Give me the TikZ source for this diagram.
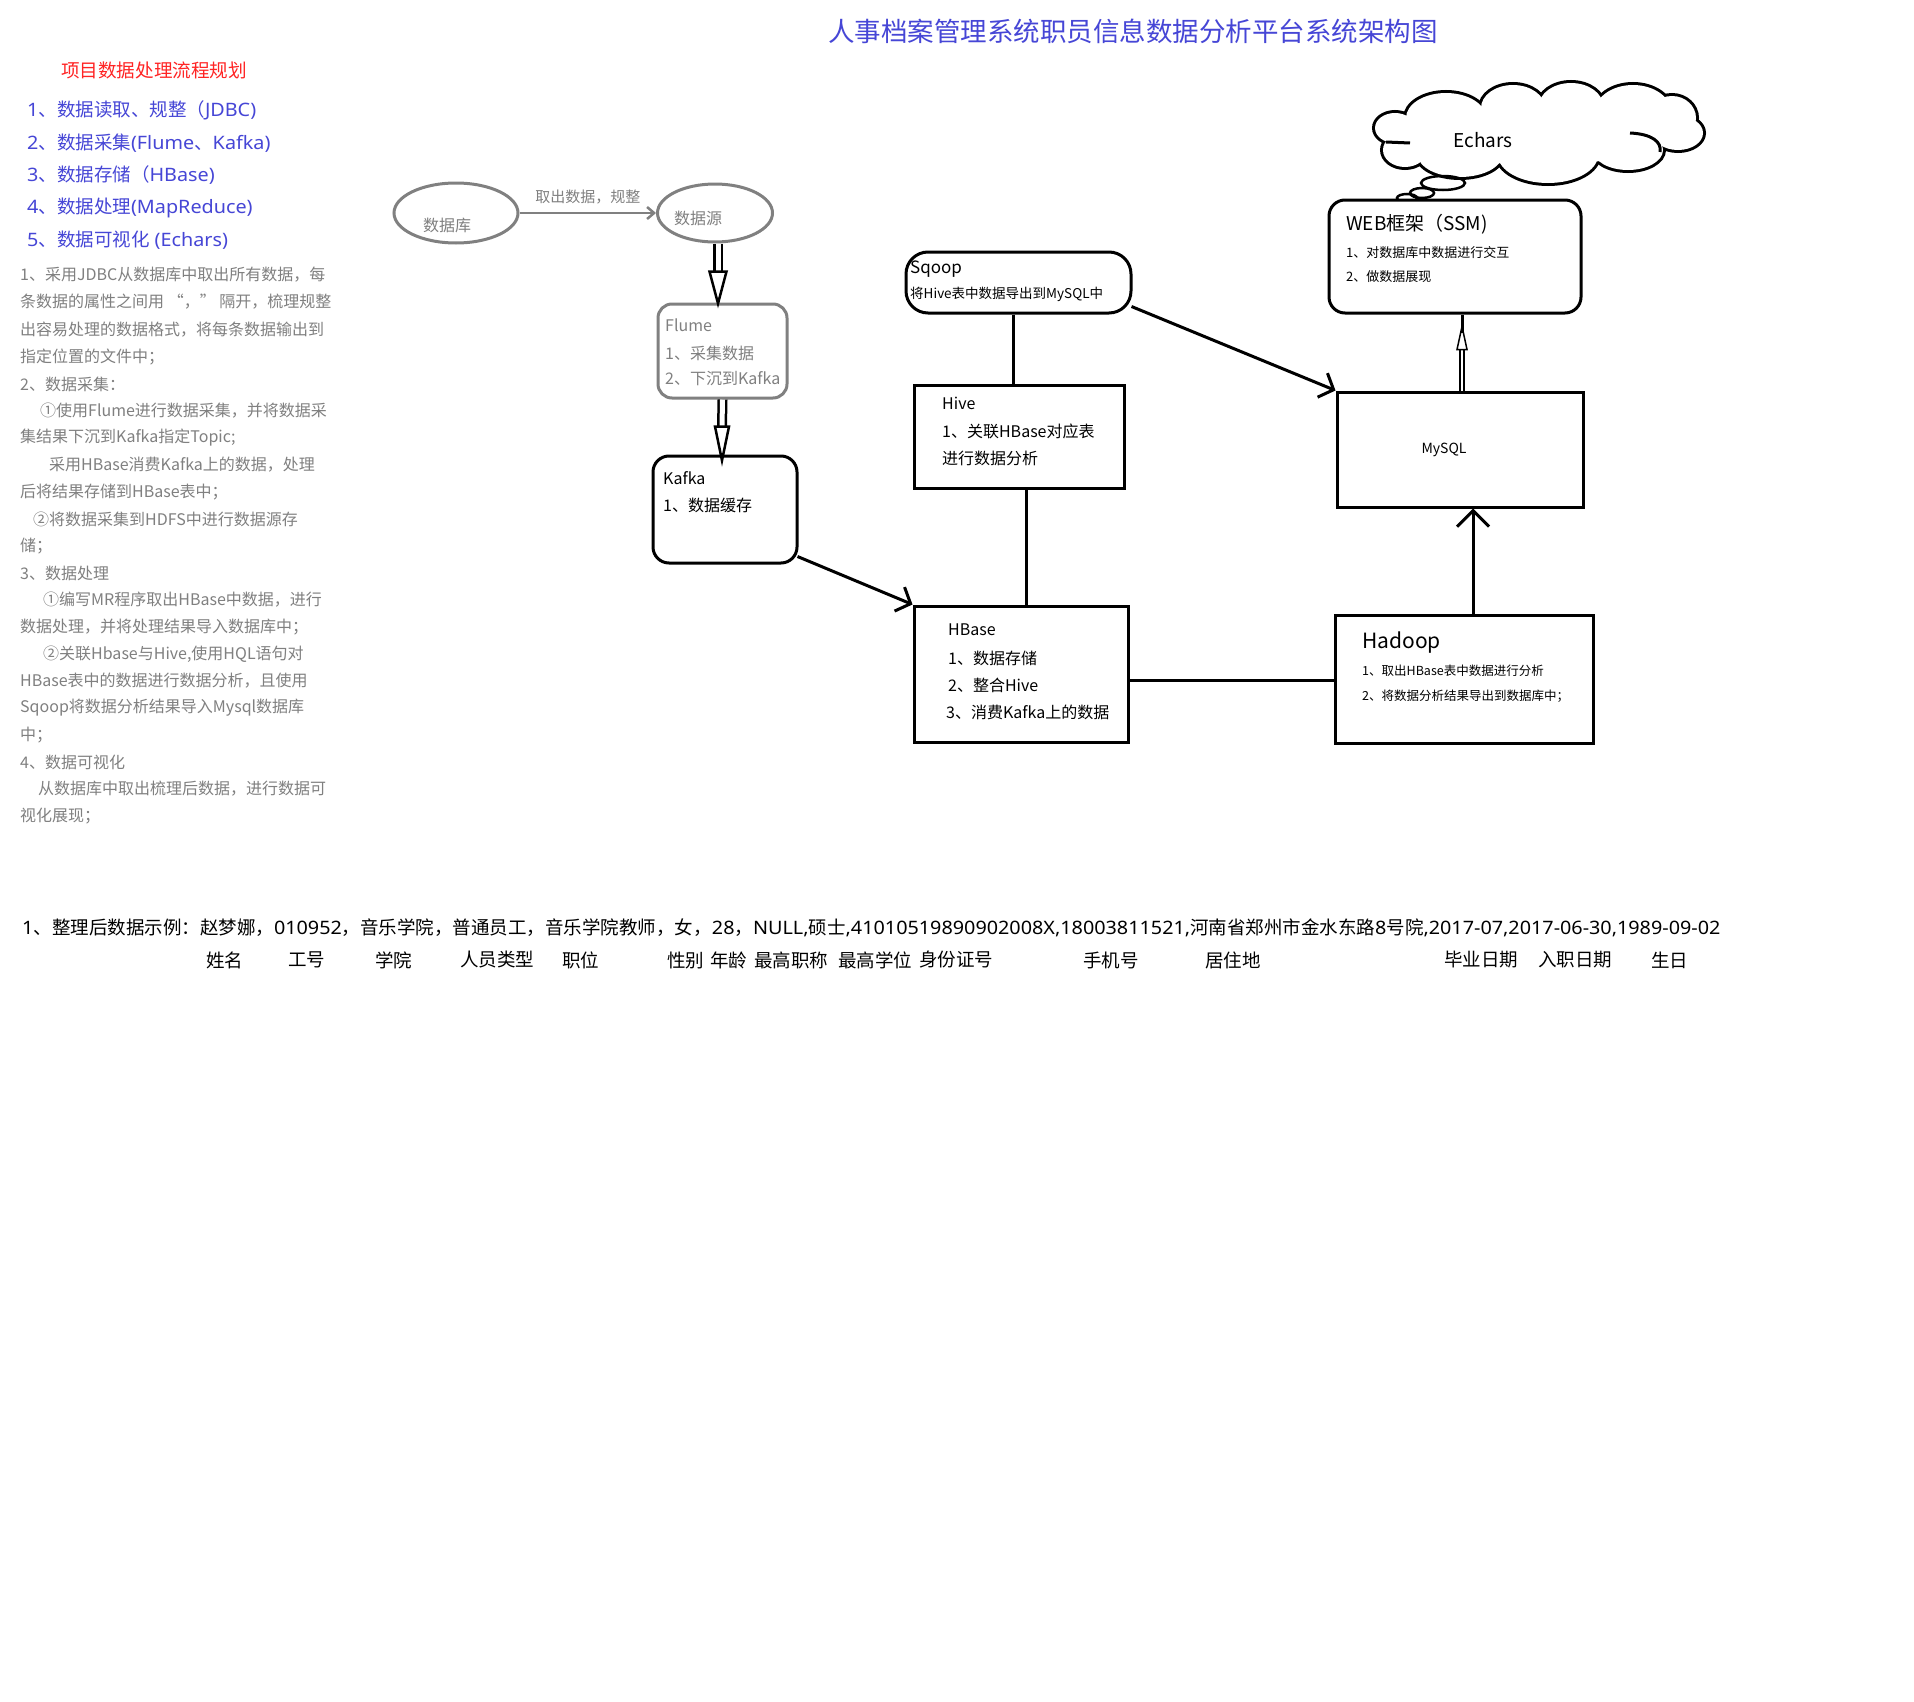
\documentclass[tikz,border=0pt]{standalone}
\usepackage{fontspec}
\setmainfont{Noto Sans CJK SC}
\newfontfamily\lat[FakeStretch=1.07]{Noto Sans}
\usetikzlibrary{shapes.geometric,arrows.meta,calc}
\definecolor{gry}{HTML}{808080}
\definecolor{blu}{HTML}{4646D6}
\definecolor{rd}{HTML}{FF2424}
\newcommand\fsz[1]{\fontsize{#1}{#1}\selectfont}
\tikzset{
  txt/.style={inner sep=0pt, anchor=west},
  ctxt/.style={inner sep=0pt},
  gtxt/.style={txt, text=gry, font=\fsz{16}},
  ltxt/.style={txt, text=blu, font=\fsz{18.5}},
  btxt/.style={txt, text=black, font=\fsz{16}},
  btxts/.style={txt, text=black, font=\fsz{12.5}},
  grayell/.style={ellipse, draw=gry, line width=3pt, inner sep=0pt},
  graybox/.style={rectangle, draw=gry, line width=3pt, rounded corners=14pt, inner sep=0pt},
  blkbox/.style={rectangle, draw=black, line width=3pt, inner sep=0pt, fill=white},
  conn/.style={draw=black, line width=3pt},
  openarr/.style={-{Straight Barb[length=12pt,width=26pt]}},
  shaft/.style={draw=black, line width=2.5pt, double=white, double distance=5pt},
  head/.style={draw=black, line width=2.5pt, fill=white, line join=miter},
  lobe/.style={draw=black, line width=6pt},
  lobefill/.style={fill=white},
}
\begin{document}
\begin{tikzpicture}[x=1pt,y=-1pt]
\useasboundingbox[fill=white] (0,0) rectangle (1914,1702);

% title
\node[ctxt, text=blu, font=\fsz{26.5}] (title) at (1133,31) {人事档案管理系统职员信息数据分析平台系统架构图};

% left column
\node[ctxt, text=rd, font=\fsz{18.6}] (rtitle) at (154,70) {项目数据处理流程规划};
\node[ltxt] (l1) at (27,110) {{\lat 1}、数据读取、规整（{\lat JDBC)}};
\node[ltxt] (l2) at (27,143) {{\lat 2}、数据采集{\lat (Flume}、{\lat Kafka)}};
\node[ltxt] (l3) at (27,175) {{\lat 3}、数据存储（{\lat HBase)}};
\node[ltxt] (l4) at (27,208) {{\lat 4}、数据处理{\lat (MapReduce)}};
\node[ltxt] (l5) at (27,240) {{\lat 5}、数据可视化{\lat\ (Echars)}};

\node[gtxt] (p1) at (20,275) {1、采用JDBC从数据库中取出所有数据，每};
\node[gtxt] (p2) at (20,302) {条数据的属性之间用 “，” 隔开，梳理规整};
\node[gtxt] (p3) at (20,330) {出容易处理的数据格式，将每条数据输出到};
\node[gtxt] (p4) at (20,357) {指定位置的文件中；};
\node[gtxt] (p5) at (20,384) {2、数据采集：};
\node[gtxt] (p6) at (40,411) {①使用Flume进行数据采集，并将数据采};
\node[gtxt] (p7) at (20,438) {集结果下沉到Kafka指定Topic;};
\node[gtxt] (p8) at (49,465) {采用HBase消费Kafka上的数据，处理};
\node[gtxt] (p9) at (20,492) {后将结果存储到HBase表中；};
\node[gtxt] (p10) at (33,519) {②将数据采集到HDFS中进行数据源存};
\node[gtxt] (p11) at (20,546) {储；};
\node[gtxt] (p12) at (20,573) {3、数据处理};
\node[gtxt] (p13) at (43,600) {①编写MR程序取出HBase中数据，进行};
\node[gtxt] (p14) at (20,627) {数据处理，并将处理结果导入数据库中；};
\node[gtxt] (p15) at (43,654) {②关联Hbase与Hive,使用HQL语句对};
\node[gtxt] (p16) at (20,681) {HBase表中的数据进行数据分析，且使用};
\node[gtxt] (p17) at (20,708) {Sqoop将数据分析结果导入Mysql数据库};
\node[gtxt] (p18) at (20,735) {中；};
\node[gtxt] (p19) at (20,762) {4、数据可视化};
\node[gtxt] (p20) at (38,789) {从数据库中取出梳理后数据，进行数据可};
\node[gtxt] (p21) at (20,816) {视化展现；};

% ellipses
\node[grayell, minimum width=124pt, minimum height=60pt] (db) at (456,213) {};
\node[ctxt, text=gry, font=\fsz{16}] (dbt) at (447,225) {数据库};
\node[grayell, minimum width=115pt, minimum height=58pt] (src) at (715,213) {};
\node[ctxt, text=gry, font=\fsz{16}] (srct) at (698,218) {数据源};
\draw[draw=gry, line width=2.5pt, -{Straight Barb[length=7pt,width=12pt]}] (db.east) -- (src.west)
  node[midway, above=8pt, inner sep=0pt, text=gry, font=\fsz{15}] {取出数据，规整};

% Flume
\node[graybox, minimum width=129pt, minimum height=94pt] (flume) at (722.5,351) {};
\node[gtxt] (fl1) at (665,325) {Flume};
\node[gtxt] (fl2) at (665,353) {1、采集数据};
\node[gtxt] (fl3) at (665,379) {2、下沉到Kafka};

% Kafka
\node[blkbox, rounded corners=16pt, minimum width=144pt, minimum height=107pt] (kafka) at (725,509.5) {};
\node[btxt] (ka1) at (663,478) {Kafka};
\node[btxt] (ka2) at (663,505) {1、数据缓存};

% hollow arrows
\draw[shaft] ($(src.south)+(3,0)$) -- ($(flume.north)+(-4.5,-31)$);
\draw[head] ($(flume.north)+(-13,-31)$) -- ($(flume.north)+(4,-31)$) -- ($(flume.north)+(-4.5,1)$) -- cycle;
\draw[shaft] ($(flume.south)+(0,0)$) -- ($(kafka.north)+(-3,-28)$);
\draw[head] ($(kafka.north)+(-10,-28)$) -- ($(kafka.north)+(4,-28)$) -- ($(kafka.north)+(-3,6)$) -- cycle;

% Sqoop, Hive, HBase
\node[blkbox, rounded corners=22pt, minimum width=225pt, minimum height=61pt] (sqoop) at (1018.5,282.5) {};
\node[txt, font=\fsz{17}] (sq1) at (910,269) {Sqoop};
\node[txt, font=\fsz{13.5}] (sq2) at (910,294) {将Hive表中数据导出到MySQL中};
\node[blkbox, minimum width=210pt, minimum height=103pt] (hive) at (1019,436.5) {};
\node[btxt] (hv1) at (942,403) {Hive};
\node[btxt] (hv2) at (942,431) {1、关联HBase对应表};
\node[btxt] (hv3) at (942,458) {进行数据分析};
\node[blkbox, minimum width=214pt, minimum height=136pt] (hbase) at (1021,674) {};
\node[btxt] (hb1) at (948,630) {HBase};
\node[btxt] (hb2) at (948,658) {1、数据存储};
\node[btxt] (hb3) at (948,685) {2、整合Hive};
\node[btxt] (hb4) at (946,712) {3、消费Kafka上的数据};

% cloud (union of lobes)
\foreach \cx/\cy/\rx/\ry in {1446/118/40/25, 1513/108/32/23, 1571/106/32/23, 1633/112/38/27,
  1672/118/24/22, 1678/133/25/17, 1628/150/35/20, 1548/155/50/28, 1460/155/42/22,
  1405/150/22/17, 1395/128/20/15}
  \draw[lobe] (\cx,\cy) ellipse [x radius=\rx, y radius=\ry];
\foreach \cx/\cy/\rx/\ry in {1446/118/40/25, 1513/108/32/23, 1571/106/32/23, 1633/112/38/27,
  1672/118/24/22, 1678/133/25/17, 1628/150/35/20, 1548/155/50/28, 1460/155/42/22,
  1405/150/22/17, 1395/128/20/15, 1540/135/120/30, 1425/140/20/12}
  \fill[lobefill] (\cx,\cy) ellipse [x radius=\rx, y radius=\ry];
\draw[line width=3pt] (1386,142) -- (1410,143);
\draw[line width=3pt] (1630,133) .. controls (1652,134) and (1662,142) .. (1660,152);
\node[ctxt, font=\fsz{19}] (ech) at (1483,140) {Echars};
\node[ellipse, draw=black, line width=2.5pt, minimum width=44pt, minimum height=14pt, inner sep=0pt] (b1) at (1443,183) {};
\node[ellipse, draw=black, line width=2.5pt, minimum width=24pt, minimum height=10pt, inner sep=0pt] (b2) at (1422,193) {};
\node[ellipse, draw=black, line width=2.5pt, minimum width=20pt, minimum height=8pt, inner sep=0pt] (b3) at (1407,198) {};
\node[blkbox, rounded corners=16pt, minimum width=252pt, minimum height=113pt] (web) at (1455,256.5) {};
\node[txt, font=\fsz{19}] (wb1) at (1346,224) {WEB框架（SSM)};
\node[btxts, font=\fsz{13}] (wb2) at (1346,253) {1、对数据库中数据进行交互};
\node[btxts, font=\fsz{13}] (wb3) at (1346,277) {2、做数据展现};

% MySQL, Hadoop
\node[blkbox, minimum width=246pt, minimum height=115pt] (mysql) at (1460,449.5) {};
\node[ctxt, font=\fsz{14}] (my) at (1444,450) {MySQL};
\node[blkbox, minimum width=258pt, minimum height=128pt] (hadoop) at (1464,679) {};
\node[txt, font=\fsz{21}] (hd1) at (1362,643) {Hadoop};
\node[btxts] (hd2) at (1362,671) {1、取出HBase表中数据进行分析};
\node[btxts] (hd3) at (1362,696) {2、将数据分析结果导出到数据库中；};

% connectors
\draw[conn] ($(sqoop.south)+(-5.5,0)$) -- ($(hive.north)+(-6,0)$);
\draw[conn] ($(hive.south)+(7,0)$) -- ($(hbase.north)+(5,0)$);
\draw[conn] ($(hbase.east)+(0,6)$) -- ($(hadoop.west)+(0,1)$);
\draw[conn, openarr] ($(kafka.south east)+(-1,-8)$) -- (hbase.north west);
\draw[conn, openarr] ($(sqoop.south east)+(-1,-8)$) -- (mysql.north west);
\draw[conn, -{Straight Barb[length=16pt,width=32pt]}] ($(hadoop.north)+(9,0)$) -- ($(mysql.south)+(13,0)$);
\draw[draw=black, line width=1.5pt, double=white, double distance=2.5pt] ($(mysql.north)+(2,0)$) -- ($(web.south)+(7,35)$);
\draw[draw=black, line width=1.5pt, fill=white] ($(web.south)+(2,35)$) -- ($(web.south)+(12,35)$) -- ($(web.south)+(7,12)$) -- cycle;
\draw[conn] ($(web.south)+(7,18)$) -- ($(web.south)+(7,0)$);

% bottom text
\node[txt, font=\fsz{18.5}] (ex) at (22,928) {{\lat 1}、整理后数据示例：赵梦娜，{\lat 010952}，音乐学院，普通员工，音乐学院教师，女，{\lat 28}，{\lat NULL,}硕士{\lat ,41010519890902008X,18003811521,}河南省郑州市金水东路{\lat 8}号院{\lat ,2017-07,2017-06-30,1989-09-02}};
\node[txt, font=\fsz{18.5}] (f1) at (206,960) {姓名};
\node[txt, font=\fsz{18.5}] (f2) at (288,960) {工号};
\node[txt, font=\fsz{18.5}] (f3) at (375,960) {学院};
\node[txt, font=\fsz{18.5}] (f4) at (460,960) {人员类型};
\node[txt, font=\fsz{18.5}] (f5) at (562,960) {职位};
\node[txt, font=\fsz{18.5}] (f6) at (667,960) {性别};
\node[txt, font=\fsz{18.5}] (f7) at (710,960) {年龄};
\node[txt, font=\fsz{18.5}] (f8) at (754,960) {最高职称};
\node[txt, font=\fsz{18.5}] (f9) at (838,960) {最高学位};
\node[txt, font=\fsz{18.5}] (f10) at (919,960) {身份证号};
\node[txt, font=\fsz{18.5}] (f11) at (1083,960) {手机号};
\node[txt, font=\fsz{18.5}] (f12) at (1205,960) {居住地};
\node[txt, font=\fsz{18.5}] (f13) at (1444,960) {毕业日期};
\node[txt, font=\fsz{18.5}] (f14) at (1538,960) {入职日期};
\node[txt, font=\fsz{18.5}] (f15) at (1651,960) {生日};
\end{tikzpicture}
\end{document}
